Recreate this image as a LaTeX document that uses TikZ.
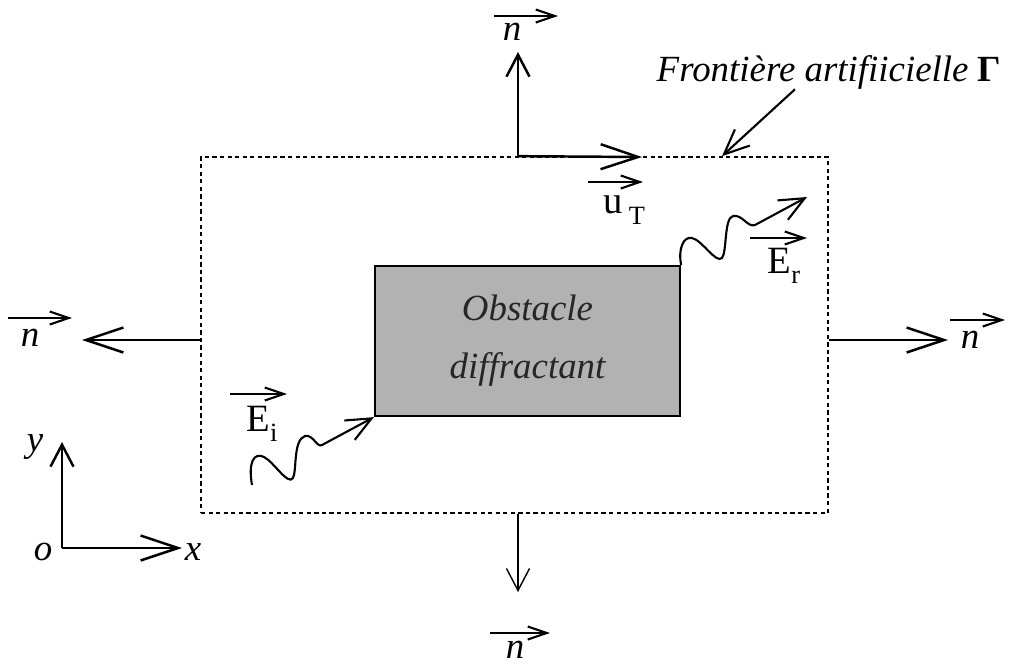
\documentclass[tikz,border=0pt]{standalone}
\usepackage{fontspec}
\setmainfont{Liberation Serif}
\usepackage{tikz}
\usetikzlibrary{positioning,arrows.meta}
\newcommand\lowtxt[1]{\raisebox{-0.6ex}{\fontsize{15}{15}\selectfont #1}}

\begin{document}
\begin{tikzpicture}[x=0.02cm,y=-0.02cm,
  bound/.style={draw,dash pattern=on 2.4pt off 1.9pt,line width=1pt,minimum width=12.54cm,minimum height=7.12cm,inner sep=0pt},
  obst/.style={draw,line width=1.3pt,fill=gray!60,minimum width=6.1cm,minimum height=3cm,inner sep=0pt,align=center,font=\fontsize{21}{33}\selectfont\itshape,text=black!85},
  arr/.style={-{Straight Barb[length=7.5mm,width=5mm]},line width=1.4pt},
  varr/.style={-{Straight Barb[length=4.4mm,width=4.6mm]},line width=1.4pt},
  vec/.style={-{Straight Barb[length=3.8mm,width=2.6mm]},line width=1.2pt},
  wave/.style={-{Straight Barb[length=5mm,width=4.4mm]},line width=1.2pt},
  lbl/.style={font=\fontsize{21}{21}\selectfont\itshape,inner sep=0pt},
  fld/.style={font=\fontsize{22}{22}\selectfont,inner sep=0pt}
]
\useasboundingbox (0,0) rectangle (1019,667);

\node[bound] (gamma) at (514.5,335) {};
\node[obst] (obst) at (527.5,341) {Obstacle\\diffractant};
\node[lbl] (front) at (829,72) {Frontière artifiicielle \textbf{\upshape Γ}};

% normales sur la frontiere
\coordinate (nt) at (518,52);
\coordinate (ut) at (642,157);
\coordinate (nl) at (82,340);
\coordinate (nr) at (948,340);
\coordinate (nb) at (518,592);
\draw[varr] (gamma.north -| nt) -- (nt);
\draw[arr] (gamma.north -| nt) -- (ut);
\draw[arr] (gamma.west |- nl) -- (nl);
\draw[arr] (gamma.east |- nr) -- (nr);
\draw[varr,line width=0.8pt] (gamma.south -| nb) -- (nb);

\node[lbl] (ntop) at (512,32) {n};
\node[lbl] (nleft) at (30,338) {n};
\node[lbl] (nright) at (970,340) {n};
\node[lbl] (nbot) at (515,650) {n};
\node[fld] (utan) at (624,210) {u\,\lowtxt{T}};
\draw[vec] (ntop.center) ++(-18,-16) -- ++(64,0);
\draw[vec] (nleft.center) ++(-22,-20) -- ++(64,0);
\draw[vec] (nright.center) ++(-20,-20) -- ++(55,0);
\draw[vec] (nbot.center) ++(-25,-17) -- ++(60,0);
\draw[vec] (utan.center) ++(-36,-28) -- ++(55,0);

% pointeur vers Gamma
\coordinate (fs) at (795,92);
\coordinate (fp) at (722,157);
\draw[wave] (front.south -| fs) -- (gamma.north -| fp);

% ondes incidente et reflechie
\coordinate (ei0) at (252,485);
\coordinate (er1) at (807,197);
\draw[wave] (ei0) .. controls (248,462) and (254,452) .. (264,457) .. controls (274,462) and (288,486) .. (293,478) .. controls (297,470) and (293,440) .. (305,436) .. controls (313,434) and (317,448) .. (322,445) -- (obst.south west);
\draw[wave] (obst.north east) .. controls (678,250) and (683,236) .. (692,238) .. controls (702,240) and (716,264) .. (722,258) .. controls (727,252) and (724,218) .. (733,216) .. controls (742,214) and (748,228) .. (755,225) -- (er1);
\node[fld] (eilbl) at (262,424) {E\lowtxt{i}};
\node[fld] (erlbl) at (784,266) {E\lowtxt{r}};
\draw[vec] (eilbl.center) ++(-32,-30) -- ++(57,0);
\draw[vec] (erlbl.center) ++(-34,-28) -- ++(57,0);

% repere
\coordinate (org) at (62,548);
\coordinate (ay) at (62,442);
\coordinate (ax) at (182,548);
\draw[varr] (org) -- (ay);
\draw[arr] (org) -- (ax);
\node[lbl] (ylbl) at (35,447) {y};
\node[lbl] (olbl) at (43,552) {o};
\node[lbl] (xlbl) at (193,552) {x};
\end{tikzpicture}
\end{document}
